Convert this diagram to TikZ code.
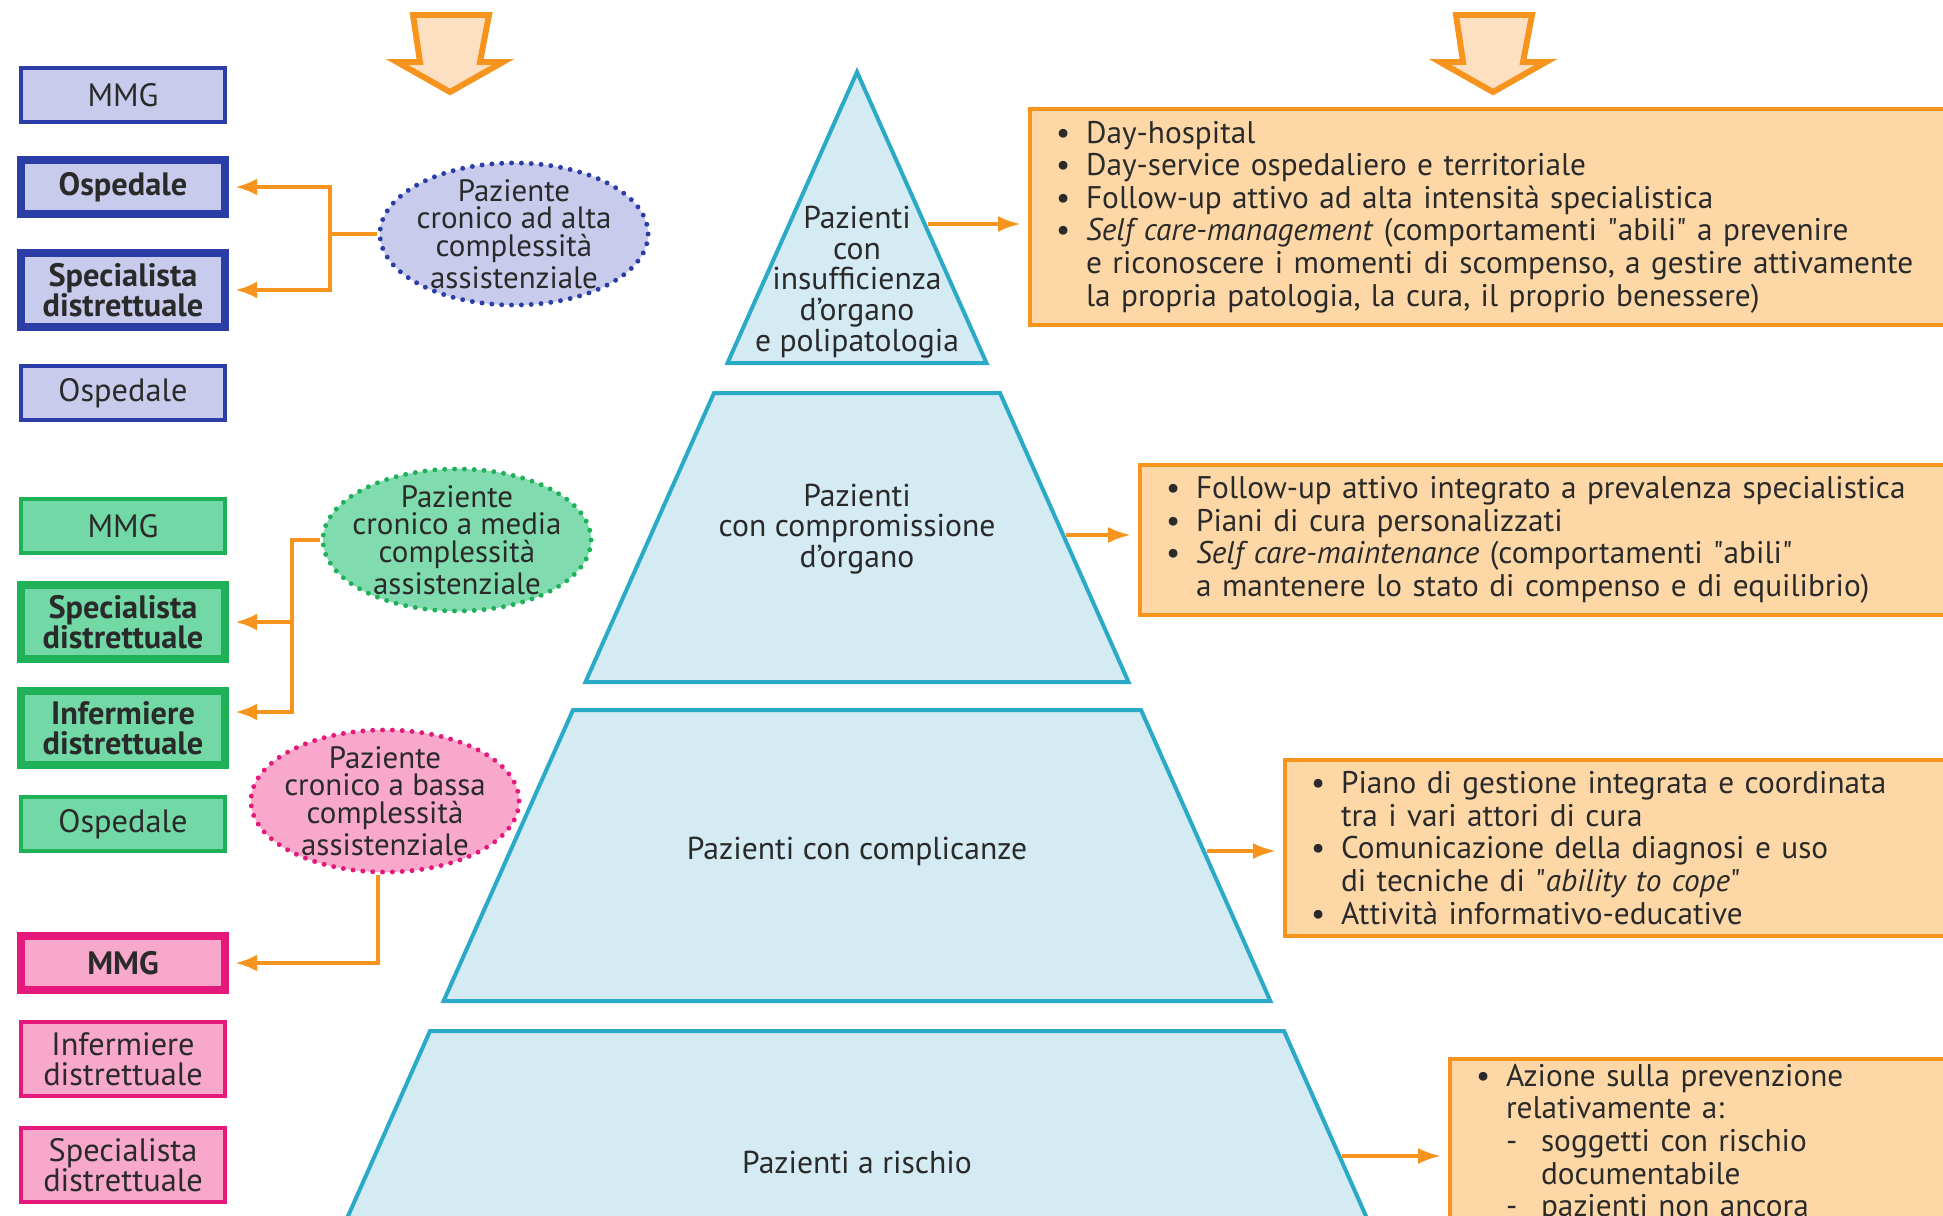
\documentclass[tikz,border=0pt]{standalone}
\usepackage{fontspec}
\setmainfont{PT Sans}
\usetikzlibrary{arrows.meta,shapes.geometric,calc}
\tikzset{>=Latex}

\definecolor{orng}{HTML}{F7941D}
\definecolor{peach}{HTML}{FDD8A6}
\definecolor{peachlt}{HTML}{FDE0C2}
\definecolor{pyrfill}{HTML}{D4EBF4}
\definecolor{pyrline}{HTML}{2BAAC8}
\definecolor{bluefill}{HTML}{C8CBEC}
\definecolor{blueline}{HTML}{2B3DA6}
\definecolor{greenfill}{HTML}{72D8A6}
\definecolor{greenline}{HTML}{1EB157}
\definecolor{pinkfill}{HTML}{F7A8CB}
\definecolor{pinkline}{HTML}{E5197C}
\definecolor{txt}{HTML}{2A2A2A}

\newcommand{\itm}{\makebox[0.30cm][l]{\textbullet}}
\newcommand{\ind}{\hspace*{0.30cm}}
\newcommand{\dsh}{\makebox[0.35cm][l]{-}}
\newcommand{\qq}{\textquotedbl}

\tikzset{
  actor/.style={draw, line width=1.14pt, minimum width=2.04cm, minimum height=0.54cm,
    inner sep=0pt, align=center, text=txt, font=\fontsize{9.2}{8.6}\selectfont},
  mainactor/.style={actor, line width=2.3pt, font=\fontsize{9.2}{8.6}\selectfont\bfseries},
  twoline/.style={minimum height=0.74cm},
  blueact/.style={fill=bluefill, draw=blueline},
  greenact/.style={fill=greenfill, draw=greenline},
  pinkact/.style={fill=pinkfill, draw=pinkline},
  patient/.style={ellipse, minimum width=2.68cm, minimum height=1.42cm, inner sep=0pt,
    line width=1.4pt, dash pattern=on 0pt off 2.8pt, line cap=round},
  patienttxt/.style={align=center, inner sep=0pt, text=txt, font=\fontsize{8.8}{7.9}\selectfont},
  slice/.style={fill=pyrfill, draw=pyrline, line width=1.14pt},
  slicetxt/.style={align=center, inner sep=0pt, text=txt, font=\fontsize{9}{8.76}\selectfont},
  infobox/.style={draw=orng, fill=peach, line width=1.14pt, align=left, inner xsep=0.26cm,
    minimum width=10cm, text width=9.48cm, text=txt, font=\fontsize{8.9}{9.28}\selectfont},
  link/.style={draw=orng, line width=1.14pt, -{Latex[length=0.22cm,width=0.17cm]}, shorten >=0.06cm},
  flow/.style={draw=orng, line width=1.4pt, -{Latex[length=0.24cm,width=0.16cm]}, shorten >=0.06cm},
  bigarrow/.style={draw=orng, fill=peachlt, line width=1.7pt, line join=miter}
}

\begin{document}
\begin{tikzpicture}[x=0.01cm,y=-0.01cm]
\useasboundingbox (0,0) rectangle (1943,1215);

\draw[bigarrow] (413,15) -- (489,15) -- (480,62) -- (503,62) -- (450,92) --
                (397,62) -- (420,62) -- cycle;
\draw[bigarrow] (1456,15) -- (1532,15) -- (1523,62) -- (1546,62) -- (1493,92) --
                (1440,62) -- (1463,62) -- cycle;

\draw[slice] (857,72) -- (986.5,363) -- (727.5,363) -- cycle;
\draw[slice] (714,393) -- (1000,393) -- (1128.5,682) -- (585.5,682) -- cycle;
\draw[slice] (573,710) -- (1141,710) -- (1270.4,1001) -- (443.6,1001) -- cycle;
\draw[slice] (430,1031) -- (1284,1031) -- (1381,1250) -- (333,1250) -- cycle;

\node[slicetxt] (lev1) at (857,282) {Pazienti\\con\\insufficienza\\d'organo\\e polipatologia};
\node[slicetxt] (lev2) at (857,529) {Pazienti\\con compromissione\\d'organo};
\node[slicetxt] (lev3) at (857,851) {Pazienti con complicanze};
\node[slicetxt] (lev4) at (857,1162) {Pazienti a rischio};

\coordinate (e1) at (928,224);
\coordinate (e2) at (1066,535);
\coordinate (e3) at (1207,851);
\coordinate (e4) at (1342,1156);

\node[infobox, anchor=west, minimum height=2.12cm] (care1) at (1028,217)
  {\itm Day-hospital\\
   \itm Day-service ospedaliero e territoriale\\
   \itm Follow-up attivo ad alta intensità specialistica\\
   \itm \textit{Self care-management} (comportamenti \qq abili\qq{} a prevenire\\
   \ind e riconoscere i momenti di scompenso, a gestire attivamente\\
   \ind la propria patologia, la cura, il proprio benessere)};
\node[infobox, anchor=west, minimum height=1.40cm] (care2) at (1138,540)
  {\itm Follow-up attivo integrato a prevalenza specialistica\\
   \itm Piani di cura personalizzati\\
   \itm \textit{Self care-maintenance} (comportamenti \qq abili\qq\\
   \ind a mantenere lo stato di compenso e di equilibrio)};
\node[infobox, anchor=west, minimum height=1.76cm] (care3) at (1283,848)
  {\itm Piano di gestione integrata e coordinata\\
   \ind tra i vari attori di cura\\
   \itm Comunicazione della diagnosi e uso\\
   \ind di tecniche di \qq\textit{ability to cope}\qq\\
   \itm Attività informativo-educative};
\node[infobox, anchor=north west, text width=6cm, minimum width=6.52cm,
      inner ysep=0.05cm] (care4) at (1448,1057)
  {\itm Azione sulla prevenzione\\
   \ind relativamente a:\\
   \ind\dsh soggetti con rischio\\
   \ind\hspace*{0.35cm}documentabile\\
   \ind\dsh pazienti non ancora};

\draw[flow] (e1) -- (e1 -| care1.west);
\draw[flow] (e2) -- (e2 -| care2.west);
\draw[flow] (e3) -- (e3 -| care3.west);
\draw[flow] (e4) -- (e4 -| care4.west);

\node[actor, blueact] (bmmg) at (123,95) {MMG};
\node[mainactor, blueact] (bosp) at (123,187) {Ospedale};
\node[mainactor, blueact, twoline] (bspec) at (123,290) {Specialista\\distrettuale};
\node[actor, blueact] (bosp2) at (123,393) {Ospedale};

\node[actor, greenact] (gmmg) at (123,526) {MMG};
\node[mainactor, greenact, twoline] (gspec) at (123,622) {Specialista\\distrettuale};
\node[mainactor, greenact, twoline] (ginf) at (123,728) {Infermiere\\distrettuale};
\node[actor, greenact] (gosp) at (123,824) {Ospedale};

\node[mainactor, pinkact] (pmmg) at (123,963) {MMG};
\node[actor, pinkact, twoline] (pinf) at (123,1059) {Infermiere\\distrettuale};
\node[actor, pinkact, twoline] (pspec) at (123,1165) {Specialista\\distrettuale};

\node[patient, fill=bluefill, draw=blueline] (pzhigh) at (514,234) {};
\node[patienttxt] (pzhigh-t) at (pzhigh.center)
  {Paziente\\cronico ad alta\\complessità\\assistenziale};
\node[patient, fill=greenfill!90!white, draw=greenline] (pzmed) at (457,540) {};
\node[patienttxt] (pzmed-t) at (pzmed.center)
  {Paziente\\cronico a media\\complessità\\assistenziale};
\node[patient, fill=pinkfill, draw=pinkline] (pzlow) at (385,801) {};
\node[patienttxt] (pzlow-t) at (pzlow.center)
  {Paziente\\cronico a bassa\\complessità\\assistenziale};

\draw[link] (pzhigh.west) -- ++(-47,0) coordinate (bj) |- (bosp.east);
\draw[link] (bj) |- (bspec.east);
\draw[link] (pzmed.west) -- ++(-28,0) coordinate (gj) |- (gspec.east);
\draw[link] (gj) |- ([yshift=0.16cm]ginf.east);
\draw[link] ([xshift=-0.07cm]pzlow.south) |- (pmmg.east);
\end{tikzpicture}
\end{document}
